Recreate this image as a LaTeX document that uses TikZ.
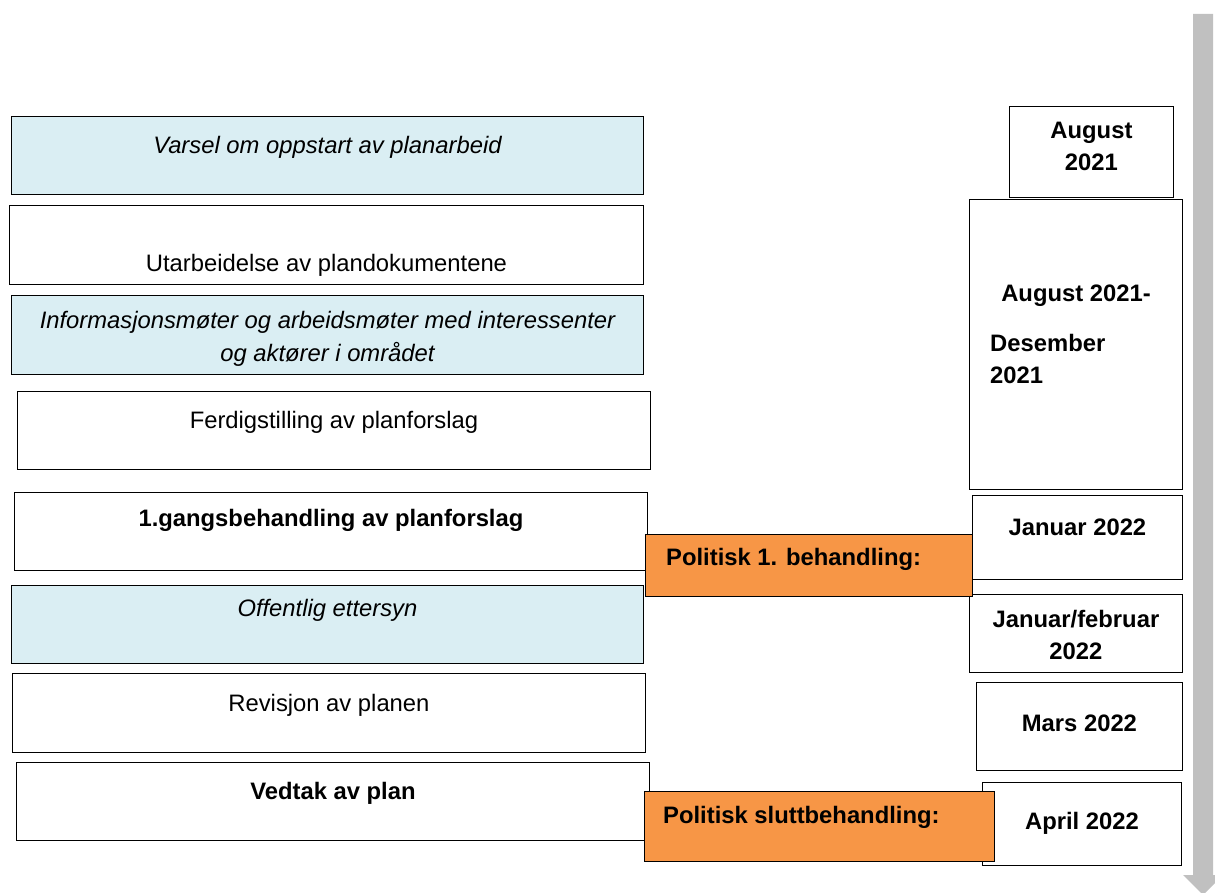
\documentclass[tikz,border=0pt]{standalone}
\usepackage{fontspec}
\setmainfont{Liberation Sans}
\usepackage{tikz}
\usetikzlibrary{positioning,calc}

\definecolor{planblue}{HTML}{DAEEF3}
\definecolor{planorange}{HTML}{F79646}
\definecolor{timegray}{HTML}{C0C0C0}

\begin{document}
\begin{tikzpicture}[
        x=1pt, y=-1pt,
        every node/.style={font=\fontsize{23.8}{32.5}\selectfont},
        box/.style={
            rectangle,
            draw=black,
            line width=0.9pt,
            anchor=north west,
            inner sep=0pt,
            fill=white
        },
        hearing/.style={box, fill=planblue},
        politics/.style={box, fill=planorange},
        boxtext/.style={align=center, inner sep=0pt},
        timeline/.style={fill=timegray}
    ]

    \useasboundingbox (0,0) rectangle (1215,893);
    \clip (0,0) rectangle (1215,893);

    % time arrow
    \fill[timeline] (1193,14) -- (1213,14) -- (1213,875) -- (1223,875)
        -- (1203,895) -- (1183,875) -- (1193,875) -- cycle;

    % left column: planning steps
    \node[hearing, minimum width=632pt, minimum height=78pt] (varsel) at (11,116) {};
    \node[boxtext, yshift=8pt] at (varsel) {\itshape Varsel om oppstart av planarbeid};

    \node[box, minimum width=634pt, minimum height=79pt] (utarbeid) at (9,205) {};
    \node[boxtext, yshift=-20.5pt] at (utarbeid) {Utarbeidelse av plandokumentene};

    \node[hearing, minimum width=632pt, minimum height=79pt] (info) at (11,295) {};
    \node[boxtext, yshift=-4pt] at (info)
        {\itshape Informasjonsmøter og arbeidsmøter med interessenter\\
         \itshape og aktører i området};

    \node[box, minimum width=633pt, minimum height=78pt] (ferdig) at (17,391) {};
    \node[boxtext, yshift=8pt] at (ferdig) {Ferdigstilling av planforslag};

    \node[box, minimum width=633pt, minimum height=78pt] (gangs) at (14,492) {};
    \node[boxtext, yshift=11pt] at (gangs) {\bfseries 1.gangsbehandling av planforslag};

    \node[hearing, minimum width=632pt, minimum height=78pt] (ettersyn) at (11,585) {};
    \node[boxtext, yshift=14pt] at (ettersyn) {\itshape Offentlig ettersyn};

    \node[box, minimum width=633pt, minimum height=79pt] (revisjon) at (12,673) {};
    \node[boxtext, yshift=7.5pt] at (revisjon) {Revisjon av planen};

    \node[box, minimum width=633pt, minimum height=78pt] (vedtak) at (16,762) {};
    \node[boxtext, yshift=8pt] at (vedtak) {\bfseries Vedtak av plan};

    % right column: dates
    \node[box, minimum width=164pt, minimum height=91pt] (aug) at (1009,106) {};
    \node[boxtext, yshift=5.5pt] at (aug) {\bfseries August\\\bfseries 2021};

    \node[box, minimum width=213pt, minimum height=290pt] (augdes) at (969,199) {};
    \node[boxtext] at (1076,296) {\bfseries August 2021-};
    \node[boxtext, align=left, anchor=west] at (990,359) {\bfseries Desember\\\bfseries 2021};

    \node[box, minimum width=210pt, minimum height=84pt] (jan) at (972,495) {};
    \node[boxtext, yshift=10pt] at (jan) {\bfseries Januar 2022};

    \node[box, minimum width=213pt, minimum height=78pt] (janfeb) at (969,594) {};
    \node[boxtext, yshift=-1.5pt] at (janfeb) {\bfseries Januar/februar\\\bfseries 2022};

    \node[box, minimum width=206pt, minimum height=88pt] (mars) at (976,682) {};
    \node[boxtext, yshift=3pt] at (mars) {\bfseries Mars 2022};

    \node[box, minimum width=199pt, minimum height=83pt] (april) at (982,782) {};
    \node[boxtext, yshift=0.5pt] at (april) {\bfseries April 2022};

    % political decisions
    \node[politics, minimum width=327pt, minimum height=62pt] (pol1) at (645,534) {};
    \node[boxtext, anchor=west] at (666,559) {\bfseries Politisk 1. behandling:};

    \node[politics, minimum width=350pt, minimum height=70pt] (pol2) at (644,791) {};
    \node[boxtext, anchor=west] at (663,817) {\bfseries Politisk sluttbehandling:};

\end{tikzpicture}
\end{document}
